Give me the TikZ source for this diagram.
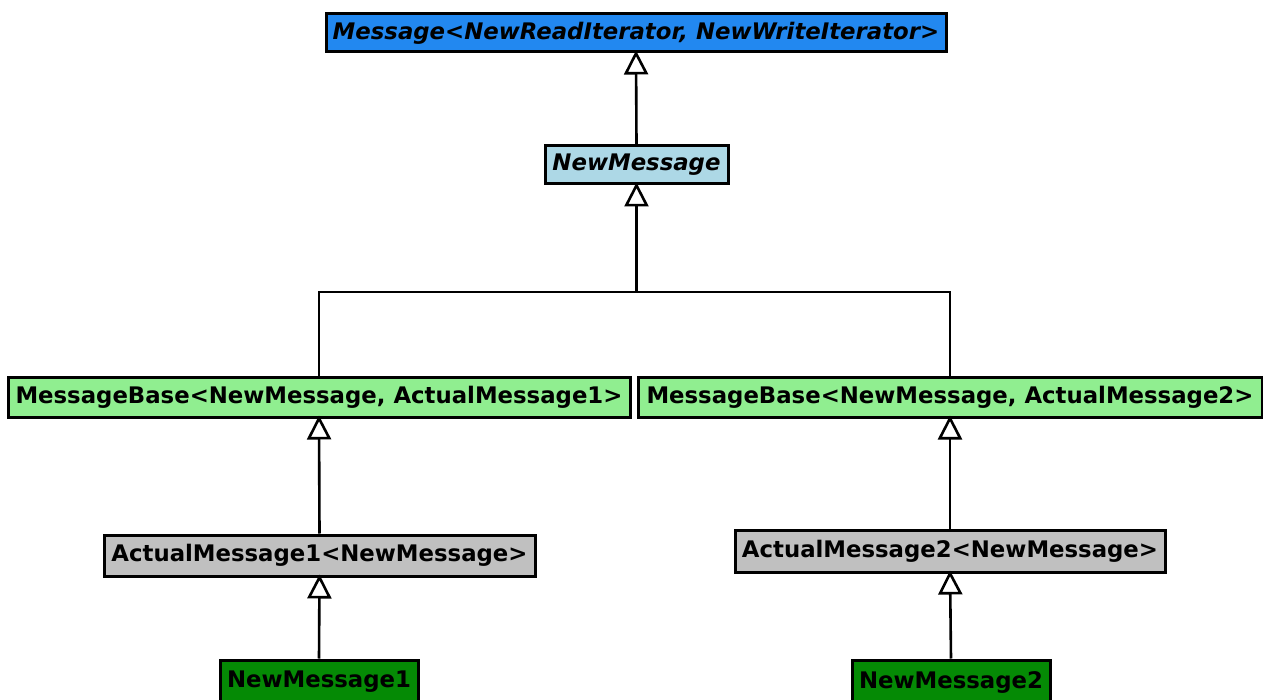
\documentclass[tikz,border=0pt]{standalone}
\usepackage{fontspec}
\setmainfont{DejaVu Sans}
\usetikzlibrary{arrows.meta}
\definecolor{ifaceblue}{HTML}{2288F0}
\definecolor{abstractblue}{HTML}{ADD8E6}
\definecolor{baselime}{HTML}{90EE90}
\definecolor{implgray}{HTML}{C0C0C0}
\definecolor{leafgreen}{HTML}{058A05}
\begin{document}
\begin{tikzpicture}[x=1pt,y=-1pt,
  cls/.style={draw=black, line width=3pt, inner sep=0pt, anchor=center,
    font=\fontsize{22.8}{27}\selectfont\bfseries, text=black},
  absc/.style={cls, font=\fontsize{22.8}{27}\selectfont\bfseries\itshape},
  inherit/.style={line width=2.6pt, -{Triangle[open, length=24pt, width=24pt, line width=2.6pt]}},
  link/.style={line width=2.6pt}]
  \useasboundingbox (0,0) rectangle (1263,700);
  \clip (0,0) rectangle (1263,700);
  % interface and abstract root
  \node[absc, fill=ifaceblue, minimum width=620pt, minimum height=38pt] (msg) at (636,33)
    {Message<NewReadIterator, NewWriteIterator>};
  \node[absc, fill=abstractblue, minimum width=183pt, minimum height=38pt] (nm) at (636.5,165)
    {NewMessage};
  % message bases
  \node[cls, fill=baselime, minimum width=622pt, minimum height=40pt] (mb1) at (319,397)
    {MessageBase<NewMessage, ActualMessage1>};
  \node[cls, fill=baselime, minimum width=624pt, minimum height=40pt] (mb2) at (950,397)
    {MessageBase<NewMessage, ActualMessage2>};
  % actual messages
  \node[cls, fill=implgray, minimum width=431pt, minimum height=41pt] (am1) at (319.5,555.5)
    {ActualMessage1<NewMessage>};
  \node[cls, fill=implgray, minimum width=430pt, minimum height=42pt] (am2) at (950,551)
    {ActualMessage2<NewMessage>};
  % concrete leaves
  \node[cls, fill=leafgreen, minimum width=198pt, minimum height=44pt] (leaf1) at (319,682)
    {NewMessage1};
  \node[cls, fill=leafgreen, minimum width=198pt, minimum height=44pt] (leaf2) at (951,682)
    {NewMessage2};
  % inheritance connectors
  \coordinate (fork) at (636.5,292);
  \draw[inherit] (nm.north) -- ([yshift=3pt]msg.south);
  \draw[inherit] (fork) -- ([yshift=3pt]nm.south);
  \draw[link] (mb1.north) |- (fork) -| (mb2.north);
  \draw[inherit] (am1.north) -- ([yshift=3pt]mb1.south);
  \draw[inherit] (am2.north) -- ([yshift=3pt]mb2.south);
  \draw[inherit] (leaf1.north) -- ([yshift=3pt]am1.south);
  \draw[inherit] (leaf2.north) -- ([yshift=3pt]am2.south);
\end{tikzpicture}
\end{document}
